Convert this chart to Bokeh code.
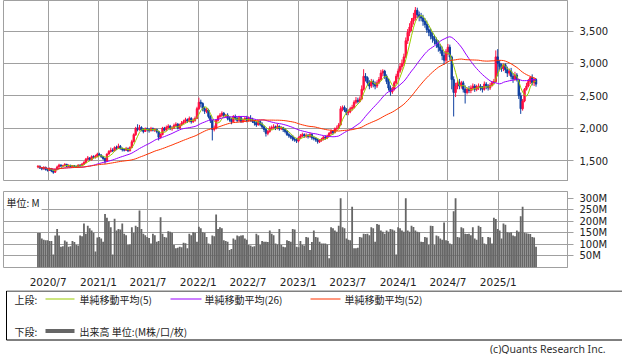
import pandas as pd
from bokeh.plotting import figure
from bokeh.layouts import column
from bokeh.models import (ColumnDataSource, Range1d, FixedTicker, Grid,
                          PrintfTickFormatter, NumeralTickFormatter, Label)
from bokeh.embed import file_html
from bokeh.resources import INLINE
from bokeh.core.properties import value

# ---------------- data (weekly) ----------------
first_week = "2020-05-25"

opens = [
    1400, 1410, 1385, 1370, 1395, 1360, 1350, 1375, 1340, 1320,
    1360, 1400, 1430, 1415, 1420, 1440, 1410, 1425, 1405, 1420,
    1410, 1400, 1430, 1420, 1445, 1470, 1520, 1540, 1510, 1560,
    1550, 1570, 1600, 1580, 1560, 1530, 1490, 1600, 1640, 1660,
    1650, 1700, 1690, 1720, 1680, 1670, 1660, 1680, 1650, 1700,
    1790, 1900, 2000, 1980, 2010, 1970, 1950, 1990, 1980, 1960,
    1990, 1970, 1980, 1950, 1860, 1900, 2000, 1970, 2010, 2030,
    1990, 2000, 2040, 2060, 2000, 2050, 2080, 2100, 2130, 2110,
    2150, 2100, 2120, 2150, 2300, 2400, 2380, 2300, 2260, 2280,
    2180, 2120, 1980, 2000, 2120, 2180, 2200, 2230, 2190, 2200,
    2150, 2130, 2100, 2180, 2150, 2120, 2160, 2100, 2130, 2150,
    2120, 2150, 2130, 2100, 2080, 2050, 2100, 2060, 2020, 1980,
    1920, 1950, 2000, 2010, 2020, 2000, 2030, 1990, 2010, 1980,
    1950, 1900, 1880, 1860, 1830, 1820, 1800, 1850, 1880, 1900,
    1880, 1890, 1870, 1900, 1850, 1840, 1820, 1790, 1810, 1830,
    1860, 1850, 1880, 1920, 1950, 1930, 1990, 2000, 2050, 2300,
    2320, 2280, 2240, 2250, 2300, 2320, 2400, 2430, 2410, 2450,
    2600, 2800, 2780, 2700, 2650, 2720, 2680, 2650, 2700, 2750,
    2850, 2880, 2800, 2720, 2620, 2560, 2600, 2700, 2800, 2880,
    2950, 3000, 3100, 3350, 3480, 3560, 3650, 3700, 3820, 3750,
    3720, 3700, 3650, 3600, 3520, 3480, 3420, 3380, 3350, 3300,
    3250, 3200, 3120, 3050, 3180, 3250, 3100, 2750, 2550, 2650,
    2700, 2650, 2700, 2600, 2550, 2600, 2580, 2620, 2650, 2600,
    2640, 2650, 2620, 2600, 2680, 2650, 2620, 2660, 2700, 2720,
    3100, 3000, 2950, 2920, 2980, 2900, 2850, 2880, 2800, 2760,
    2820, 2750, 2500, 2300, 2420, 2600, 2650, 2720, 2780, 2700, 2750,
]

highs = [
    1430, 1425, 1400, 1410, 1405, 1380, 1390, 1385, 1360, 1370,
    1420, 1450, 1440, 1435, 1460, 1450, 1440, 1435, 1430, 1430,
    1420, 1440, 1440, 1460, 1490, 1540, 1570, 1550, 1580, 1580,
    1590, 1620, 1620, 1600, 1570, 1540, 1610, 1660, 1700, 1690,
    1720, 1730, 1760, 1740, 1700, 1690, 1710, 1700, 1720, 1820,
    1920, 2020, 2060, 2050, 2030, 2000, 2010, 2010, 2000, 2020,
    2010, 2000, 1990, 1960, 1920, 2020, 2020, 2040, 2060, 2050,
    2030, 2070, 2090, 2080, 2070, 2110, 2130, 2160, 2150, 2180,
    2170, 2150, 2180, 2330, 2470, 2440, 2400, 2330, 2310, 2300,
    2200, 2130, 2040, 2140, 2200, 2230, 2260, 2250, 2220, 2230,
    2180, 2160, 2200, 2210, 2170, 2190, 2180, 2150, 2180, 2190,
    2180, 2200, 2160, 2130, 2110, 2120, 2120, 2090, 2040, 2000,
    1970, 2030, 2040, 2060, 2040, 2070, 2040, 2030, 2020, 2000,
    1970, 1930, 1900, 1890, 1860, 1850, 1870, 1910, 1930, 1920,
    1920, 1910, 1930, 1920, 1870, 1860, 1840, 1830, 1850, 1880,
    1890, 1900, 1940, 1980, 1970, 2010, 2040, 2080, 2340, 2350,
    2350, 2310, 2290, 2330, 2360, 2430, 2480, 2470, 2490, 2660,
    2910, 2850, 2800, 2740, 2760, 2750, 2720, 2740, 2790, 2900,
    2910, 2900, 2830, 2760, 2660, 2640, 2730, 2840, 2920, 3000,
    3060, 3150, 3400, 3530, 3620, 3700, 3780, 3870, 3860, 3800,
    3780, 3750, 3700, 3660, 3580, 3540, 3480, 3440, 3400, 3360,
    3300, 3260, 3180, 3220, 3300, 3290, 3120, 2800, 2700, 2750,
    2760, 2730, 2730, 2660, 2630, 2650, 2660, 2690, 2680, 2670,
    2690, 2680, 2650, 2720, 2710, 2680, 2700, 2730, 2760, 3200,
    3220, 3050, 3000, 3000, 3000, 2950, 2920, 2930, 2850, 2870,
    2850, 2760, 2550, 2450, 2620, 2700, 2760, 2800, 2830, 2780, 2770,
]

lows = [
    1380, 1370, 1350, 1360, 1345, 1330, 1340, 1320, 1295, 1310,
    1350, 1390, 1400, 1400, 1410, 1400, 1400, 1395, 1395, 1395,
    1385, 1390, 1405, 1410, 1430, 1460, 1500, 1490, 1500, 1530,
    1530, 1550, 1570, 1540, 1510, 1450, 1480, 1590, 1620, 1630,
    1640, 1660, 1680, 1670, 1640, 1640, 1650, 1630, 1640, 1690,
    1780, 1880, 1950, 1960, 1950, 1920, 1940, 1950, 1930, 1950,
    1950, 1940, 1920, 1810, 1840, 1890, 1950, 1960, 1990, 1970,
    1960, 1990, 2020, 1980, 1990, 2030, 2060, 2080, 2080, 2090,
    2070, 2080, 2100, 2140, 2280, 2320, 2260, 2220, 2230, 2150,
    2080, 1810, 1950, 1980, 2100, 2150, 2170, 2160, 2160, 2120,
    2100, 2060, 2090, 2120, 2090, 2100, 2080, 2080, 2100, 2090,
    2100, 2100, 2080, 2040, 2020, 2040, 2030, 1990, 1940, 1870,
    1890, 1930, 1970, 1990, 1970, 1980, 1960, 1970, 1940, 1920,
    1880, 1850, 1830, 1800, 1790, 1770, 1780, 1830, 1860, 1850,
    1850, 1840, 1850, 1820, 1810, 1790, 1760, 1770, 1790, 1810,
    1820, 1830, 1860, 1900, 1900, 1920, 1960, 1990, 2040, 2260,
    2250, 2200, 2200, 2230, 2270, 2300, 2370, 2380, 2400, 2430,
    2580, 2720, 2660, 2600, 2620, 2630, 2600, 2620, 2680, 2730,
    2800, 2760, 2680, 2580, 2500, 2530, 2580, 2680, 2760, 2850,
    2900, 2960, 3080, 3300, 3420, 3500, 3600, 3660, 3700, 3650,
    3650, 3580, 3550, 3470, 3420, 3370, 3320, 3290, 3240, 3180,
    3150, 3050, 2980, 3010, 3130, 3050, 2600, 2180, 2480, 2600,
    2600, 2610, 2550, 2380, 2520, 2540, 2540, 2580, 2560, 2570,
    2590, 2580, 2550, 2580, 2600, 2580, 2590, 2640, 2680, 2700,
    2800, 2900, 2870, 2880, 2850, 2790, 2810, 2750, 2700, 2730,
    2720, 2450, 2220, 2270, 2400, 2580, 2630, 2680, 2660, 2650, 2640,
]

closes = [
    1410, 1385, 1370, 1395, 1360, 1350, 1375, 1340, 1320, 1360,
    1400, 1430, 1415, 1420, 1440, 1410, 1425, 1405, 1420, 1410,
    1400, 1430, 1420, 1445, 1470, 1520, 1540, 1510, 1560, 1550,
    1570, 1600, 1580, 1560, 1530, 1490, 1600, 1640, 1660, 1650,
    1700, 1690, 1720, 1680, 1670, 1660, 1680, 1650, 1700, 1790,
    1900, 2000, 1980, 2010, 1970, 1950, 1990, 1980, 1960, 1990,
    1970, 1980, 1950, 1860, 1900, 2000, 1970, 2010, 2030, 1990,
    2000, 2040, 2060, 2000, 2050, 2080, 2100, 2130, 2110, 2150,
    2100, 2120, 2150, 2300, 2400, 2380, 2300, 2260, 2280, 2180,
    2120, 1980, 2000, 2120, 2180, 2200, 2230, 2190, 2200, 2150,
    2130, 2100, 2180, 2150, 2120, 2160, 2100, 2130, 2150, 2120,
    2150, 2130, 2100, 2080, 2050, 2100, 2060, 2020, 1980, 1920,
    1950, 2000, 2010, 2020, 2000, 2030, 1990, 2010, 1980, 1950,
    1900, 1880, 1860, 1830, 1820, 1800, 1850, 1880, 1900, 1880,
    1890, 1870, 1900, 1850, 1840, 1820, 1790, 1810, 1830, 1860,
    1850, 1880, 1920, 1950, 1930, 1990, 2000, 2050, 2300, 2320,
    2280, 2240, 2250, 2300, 2320, 2400, 2430, 2410, 2450, 2600,
    2800, 2780, 2700, 2650, 2720, 2680, 2650, 2700, 2750, 2850,
    2880, 2800, 2720, 2620, 2560, 2600, 2700, 2800, 2880, 2950,
    3000, 3100, 3350, 3480, 3560, 3650, 3700, 3820, 3750, 3720,
    3700, 3650, 3600, 3520, 3480, 3420, 3380, 3350, 3300, 3250,
    3200, 3120, 3050, 3180, 3250, 3100, 2750, 2550, 2650, 2700,
    2650, 2700, 2600, 2550, 2600, 2580, 2620, 2650, 2600, 2640,
    2650, 2620, 2600, 2680, 2650, 2620, 2660, 2700, 2720, 3100,
    3000, 2950, 2920, 2980, 2900, 2850, 2880, 2800, 2760, 2820,
    2750, 2500, 2300, 2420, 2600, 2650, 2720, 2780, 2700, 2750, 2680,
]

volumes_m = [
    149, 149, 125, 120, 118, 118, 115, 115, 56, 139,
    167, 139, 90, 92, 117, 112, 90, 92, 115, 110,
    97, 95, 139, 135, 190, 146, 181, 170, 160, 150,
    69, 130, 132, 125, 111, 232, 215, 200, 174, 56,
    211, 160, 167, 165, 190, 146, 140, 97, 100, 174,
    150, 181, 175, 247, 167, 146, 140, 132, 128, 104,
    146, 140, 111, 115, 218, 146, 132, 130, 157, 155,
    150, 97, 83, 85, 90, 88, 107, 105, 83, 146,
    140, 153, 150, 111, 176, 170, 153, 150, 132, 104,
    100, 139, 135, 229, 167, 174, 170, 118, 115, 111,
    76, 80, 125, 120, 139, 135, 139, 140, 125, 120,
    97, 95, 90, 92, 146, 140, 97, 115, 112, 111,
    110, 160, 146, 140, 104, 100, 167, 97, 90, 88,
    118, 115, 111, 167, 165, 90, 88, 115, 97, 95,
    132, 130, 76, 110, 160, 132, 130, 111, 104, 104,
    104, 100, 40, 174, 170, 160, 155, 181, 300, 174,
    170, 125, 120, 118, 263, 83, 83, 85, 132, 130,
    146, 145, 146, 140, 174, 170, 111, 188, 185, 160,
    155, 146, 160, 155, 167, 165, 160, 56, 174, 170,
    160, 155, 300, 160, 155, 181, 175, 160, 155, 153,
    111, 110, 132, 130, 97, 181, 180, 97, 139, 135,
    125, 120, 195, 118, 115, 104, 100, 243, 300, 132,
    130, 174, 170, 146, 145, 146, 140, 174, 125, 120,
    181, 175, 132, 104, 100, 132, 130, 104, 215, 210,
    167, 160, 125, 190, 185, 153, 150, 153, 139, 135,
    160, 155, 222, 263, 150, 148, 146, 145, 132, 130, 90,
]

x_tick_labels = ["2020/7", "2021/1", "2021/7", "2022/1", "2022/7",
                 "2023/1", "2023/7", "2024/1", "2024/7", "2025/1"]
price_ticks = [1500, 2000, 2500, 3000, 3500]
volume_ticks = [50, 100, 150, 200, 250, 300]
ma_periods = [5, 26, 52]
ma_colors = ["#99cc00", "#9900ff", "#ff3300"]

# ---------------- styling ----------------
UP = "#ff1040"
DOWN = "#1040a0"
GRID = "#a0a0a0"
TXT = "#222222"
NUM_FONT = "DejaVu Sans"
CJK_FONT = "Noto Sans CJK JP"
DAY = 86400000.0

dates = pd.date_range(first_week, periods=len(closes), freq="7D")
tick_ms = [pd.Timestamp(int(s.split("/")[0]), int(s.split("/")[1]), 1).value / 1e6
           for s in x_tick_labels]
overrides = {t: s for t, s in zip(tick_ms, x_tick_labels)}

x_range = Range1d(pd.Timestamp("2020-01-20").value / 1e6,
                  pd.Timestamp("2025-09-11").value / 1e6)

df = pd.DataFrame({"date": dates, "open": opens, "high": highs,
                   "low": lows, "close": closes, "vol": volumes_m})
df["top"] = df[["open", "close"]].max(axis=1)
df["bottom"] = df[["open", "close"]].min(axis=1)
df["color"] = [UP if c >= o else DOWN for o, c in zip(opens, closes)]
for n in ma_periods:
    df[f"ma{n}"] = df["close"].rolling(n, min_periods=1).mean()
src = ColumnDataSource(df)

# ---------------- price pane ----------------
p1 = figure(frame_width=564, frame_height=181, x_range=x_range,
            y_range=Range1d(1176, 3971), x_axis_type="datetime",
            x_axis_location=None, y_axis_location="right",
            output_backend="svg", toolbar_location=None,
            min_border_left=3, min_border_right=55,
            min_border_top=0, min_border_bottom=0,
            background_fill_color="white", border_fill_color="white")
p1.outline_line_color = GRID
p1.add_layout(Grid(dimension=0, ticker=FixedTicker(ticks=tick_ms),
                   grid_line_color=GRID))
p1.ygrid.ticker = FixedTicker(ticks=price_ticks)
p1.ygrid.grid_line_color = GRID
ya = p1.yaxis[0]
ya.ticker = FixedTicker(ticks=price_ticks)
ya.formatter = NumeralTickFormatter(format="0,0")
ya.axis_line_color = GRID
ya.major_tick_line_color = GRID
ya.major_tick_out = 6
ya.major_tick_in = 0
ya.minor_tick_line_color = None
ya.major_label_standoff = 6
ya.major_label_text_font = NUM_FONT
ya.major_label_text_font_size = "10px"
ya.major_label_text_color = TXT

p1.segment(x0="date", y0="low", x1="date", y1="high", color="color",
           line_width=1, source=src)
p1.vbar(x="date", width=5 * DAY, top="top", bottom="bottom",
        fill_color="color", line_color="color", line_width=1, source=src)
for n, c in zip(ma_periods, ma_colors):
    p1.line(x="date", y=f"ma{n}", color=c, line_width=1, source=src)

# ---------------- volume pane ----------------
p2 = figure(frame_width=564, frame_height=76, x_range=x_range,
            y_range=Range1d(0, 329), x_axis_type="datetime",
            y_axis_location="right",
            output_backend="svg", toolbar_location=None,
            min_border_left=3, min_border_right=55,
            min_border_top=10, min_border_bottom=0,
            background_fill_color="white", border_fill_color="white")
p2.outline_line_color = GRID
xa = p2.xaxis[0]
xa.ticker = FixedTicker(ticks=tick_ms)
xa.major_label_overrides = overrides
xa.axis_line_color = None
xa.major_tick_line_color = None
xa.minor_tick_line_color = None
xa.major_label_standoff = 2
xa.major_label_text_font = NUM_FONT
xa.major_label_text_font_size = "10.5px"
xa.major_label_text_color = TXT
p2.xgrid.grid_line_color = GRID
p2.ygrid.ticker = FixedTicker(ticks=volume_ticks[:-1])
p2.ygrid.grid_line_color = GRID
va = p2.yaxis[0]
va.ticker = FixedTicker(ticks=volume_ticks)
va.formatter = PrintfTickFormatter(format="%dM")
va.axis_line_color = GRID
va.major_tick_line_color = GRID
va.major_tick_out = 6
va.major_tick_in = 0
va.minor_tick_line_color = None
va.major_label_standoff = 6
va.major_label_text_font = NUM_FONT
va.major_label_text_font_size = "10px"
va.major_label_text_color = TXT

p2.vbar(x="date", width=6.6 * DAY, top="vol", bottom=0,
        fill_color="#666666", line_color=None, source=src)
p2.add_layout(Label(x=1, y=75, x_units="screen", y_units="screen",
                    text="単位: M", text_baseline="top",
                    text_font=CJK_FONT, text_font_size="10px",
                    text_color=TXT, background_fill_color="white",
                    padding=2))

# ---------------- legend pane ----------------
p3 = figure(frame_width=622, frame_height=64,
            x_range=Range1d(0, 622), y_range=Range1d(64, 0),
            x_axis_location=None, y_axis_location=None,
            output_backend="svg", toolbar_location=None,
            min_border=0, min_border_left=0, min_border_right=0,
            min_border_top=0, min_border_bottom=0,
            background_fill_color="white", border_fill_color="white")
p3.outline_line_color = None
p3.xgrid.visible = False
p3.ygrid.visible = False

p3.quad(left=[3], right=[619], top=[0.5], bottom=[49.5],
        fill_color="white", line_color="black", line_width=1)

row1_y, row2_y = 8.5, 40.5
ma_labels = [f"単純移動平均({n})" for n in ma_periods]
line_x0 = [42, 167, 307]
line_x1 = [71, 198, 337]
text_x = [76, 201, 341]
p3.segment(x0=line_x0, y0=[row1_y] * 3, x1=line_x1, y1=[row1_y] * 3,
           color=ma_colors, line_width=1.2)
p3.text(x=[11] + text_x, y=[row1_y] * 4, text=["上段:"] + ma_labels,
        text_font=value(CJK_FONT), text_font_size="10px",
        text_baseline="middle", text_color=TXT)
p3.segment(x0=[42], y0=[row2_y], x1=[71], y1=[row2_y],
           color="#666666", line_width=4)
p3.text(x=[11, 76], y=[row2_y, row2_y],
        text=["下段:", "出来高 単位:(M株/口/枚)"],
        text_font=value(CJK_FONT), text_font_size="10px",
        text_baseline="middle", text_color=TXT)
p3.text(x=[602], y=[58], text=["(c)Quants Research Inc."],
        text_font=value("Noto Sans"), text_font_size="10.5px",
        text_align="right", text_baseline="middle", text_color="#333333")

layout = column(p1, p2, p3, spacing=0)
open("out.html", "w").write(file_html(layout, INLINE))
